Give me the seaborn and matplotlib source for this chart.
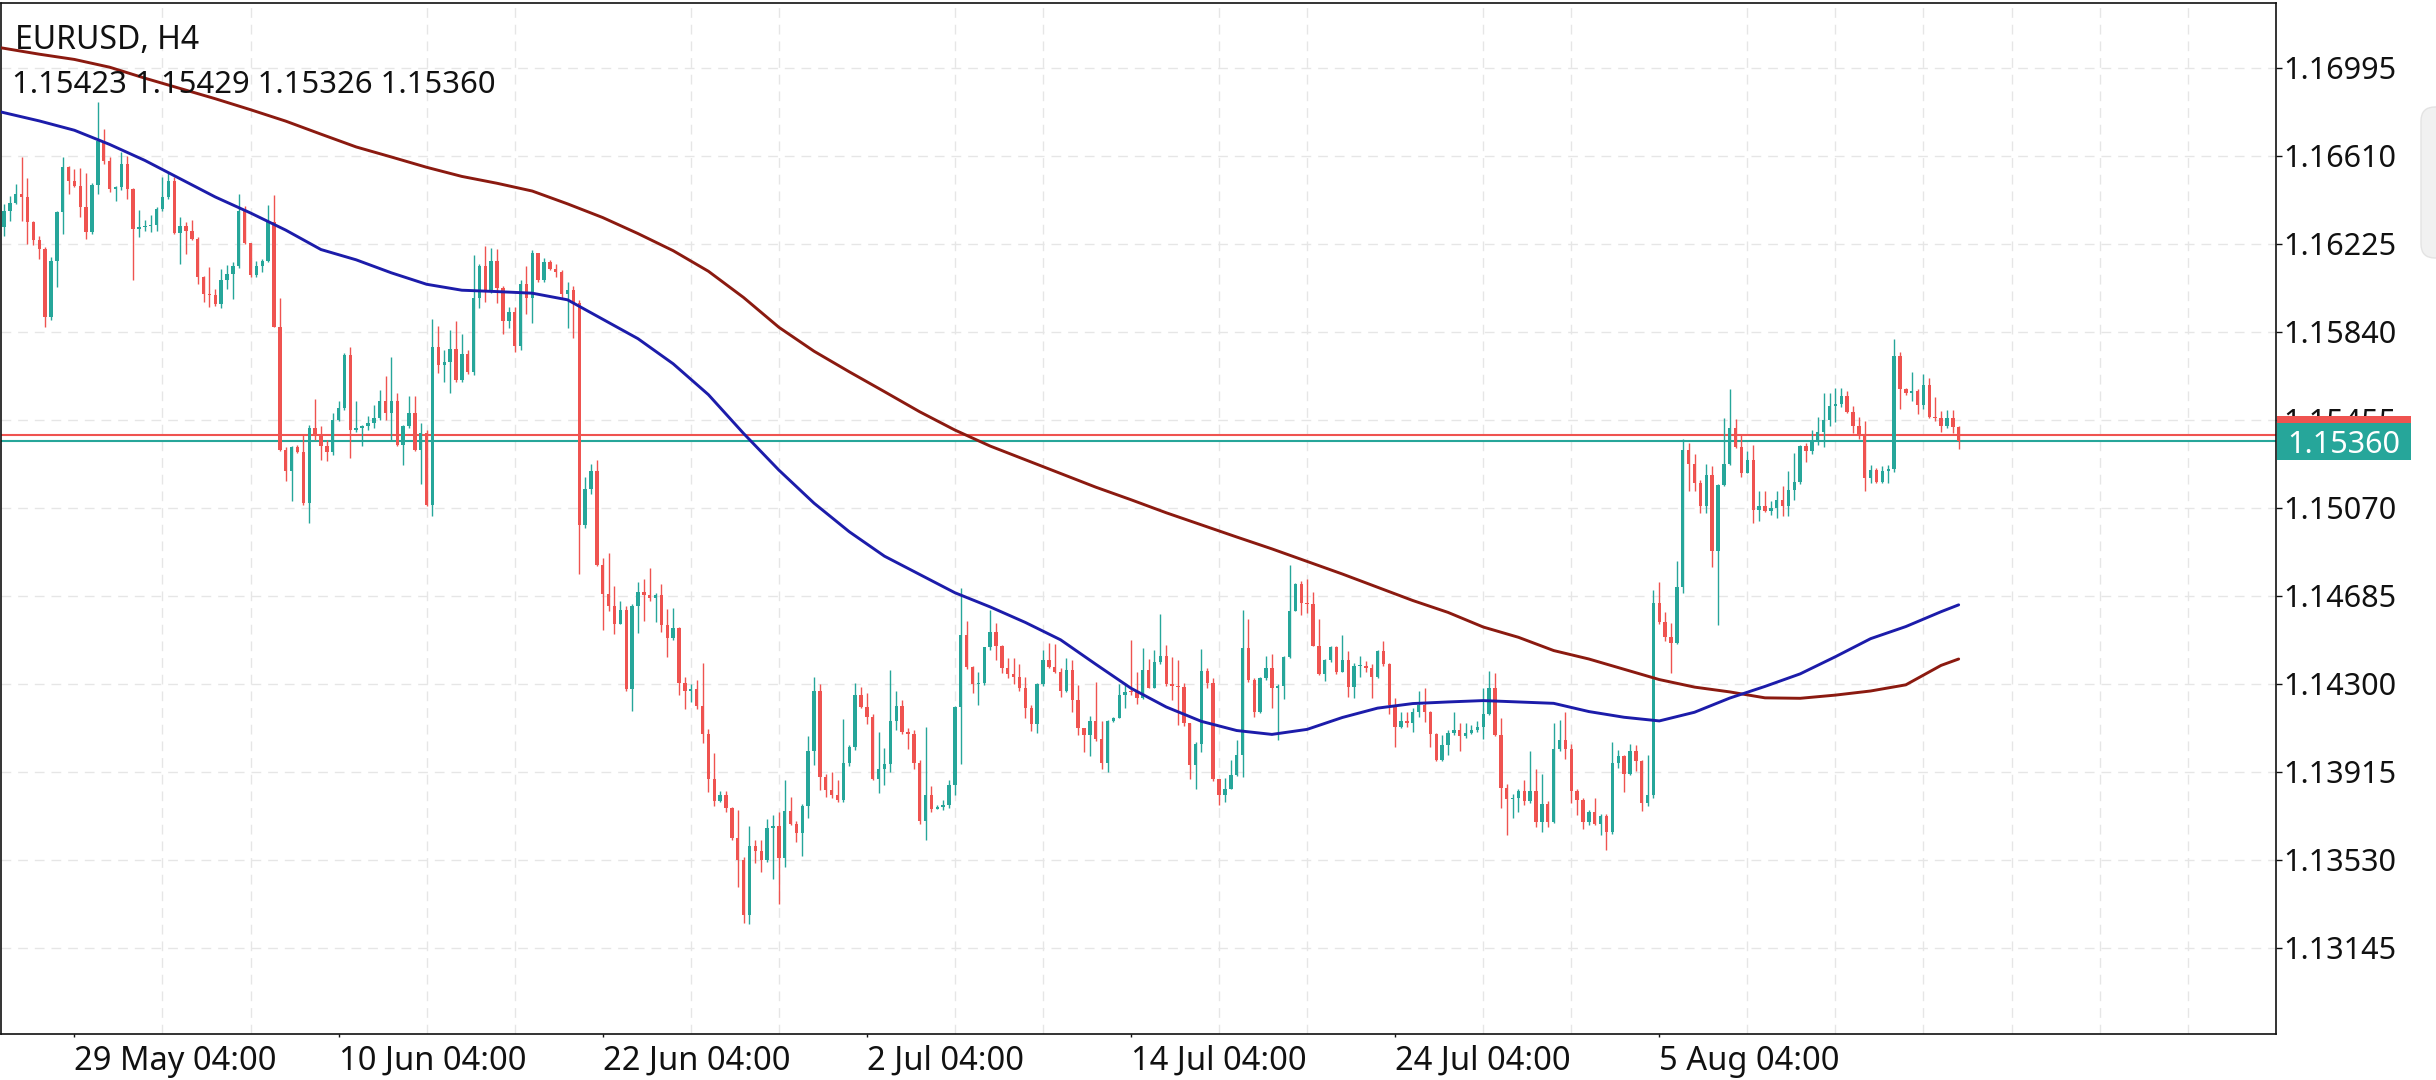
import numpy as np
import pandas as pd
import seaborn as sns
import matplotlib.pyplot as plt
from matplotlib.patches import Rectangle, FancyBboxPatch
from matplotlib.transforms import blended_transform_factory, IdentityTransform

# chart data
symbol = "EURUSD, H4"
first_open = 1.16298

close = [
    1.16370, 1.16402, 1.16443, 1.16428, 1.16319, 1.16242, 1.16203, 1.15905, 1.16152, 1.16363,
    1.16562, 1.16501, 1.16479, 1.16385, 1.16276, 1.16484, 1.16675, 1.16588, 1.16465, 1.16475,
    1.16574, 1.16465, 1.16290, 1.16298, 1.16305, 1.16309, 1.16378, 1.16431, 1.16501, 1.16272,
    1.16305, 1.16280, 1.16247, 1.16080, 1.16007, 1.16000, 1.15961, 1.16065, 1.16094, 1.16126,
    1.16370, 1.16228, 1.16087, 1.16126, 1.16152, 1.16319, 1.15859, 1.15324, 1.15230, 1.15336,
    1.15313, 1.15089, 1.15419, 1.15390, 1.15339, 1.15313, 1.15455, 1.15506, 1.15738, 1.15411,
    1.15419, 1.15426, 1.15440, 1.15462, 1.15535, 1.15484, 1.15535, 1.15346, 1.15426, 1.15484,
    1.15324, 1.15397, 1.15084, 1.15775, 1.15695,
    1.15709, 1.15765, 1.15630, 1.15745, 1.15666, 1.15987, 1.16126, 1.16017, 1.16150, 1.16031,
    1.15888, 1.15928, 1.15779, 1.16051, 1.15987, 1.16186, 1.16067, 1.16146, 1.16116, 1.16100,
    1.16007, 1.16023, 1.15967, 1.14995, 1.15153, 1.15229, 1.14820, 1.14693, 1.14641, 1.14562,
    1.14622, 1.14276, 1.14641, 1.14701, 1.14687, 1.14677, 1.14690, 1.14558, 1.14502, 1.14542,
    1.14304, 1.14270, 1.14276, 1.14201, 1.14078, 1.13883, 1.13788, 1.13814, 1.13754, 1.13625,
    1.13530, 1.13288, 1.13589, 1.13566, 1.13530, 1.13669, 1.13675, 1.13536, 1.13744, 1.13685,
    1.13645, 1.13764, 1.14006, 1.14270, 1.13893, 1.13833, 1.13813, 1.13790, 1.13953, 1.14022,
    1.14250,
    1.14199, 1.14155, 1.13882, 1.13928, 1.13950, 1.14136, 1.14204, 1.14087, 1.14078, 1.13955,
    1.13697, 1.13814, 1.13753, 1.13760, 1.13770, 1.13858, 1.14199, 1.14511, 1.14371, 1.14297,
    1.14302, 1.14459, 1.14526, 1.14463, 1.14368, 1.14341, 1.14330, 1.14280, 1.14192, 1.14122,
    1.14297, 1.14404, 1.14375, 1.14350, 1.14268, 1.14360, 1.14229, 1.14104, 1.14075, 1.14136,
    1.14060, 1.13955, 1.14136, 1.14151, 1.14251, 1.14265, 1.14262, 1.14236, 1.14360, 1.14283,
    1.14397, 1.14419, 1.14297, 1.14292, 1.14287, 1.14126, 1.13946, 1.14038, 1.14356, 1.14302,
    1.13882, 1.13811, 1.13841, 1.13899, 1.13987, 1.14456, 1.14316, 1.14177, 1.14327, 1.14368,
    1.14280, 1.14290, 1.14415, 1.14619, 1.14737, 1.14653, 1.14649, 1.14467, 1.14341, 1.14404,
    1.14459, 1.14353, 1.14404, 1.14287, 1.14379, 1.14379, 1.14370, 1.14331, 1.14441, 1.14385,
    1.14207, 1.14111, 1.14136, 1.14126,
    1.14178, 1.14208, 1.14174, 1.14079, 1.13966, 1.14030, 1.14082, 1.14096, 1.14070, 1.14085,
    1.14099, 1.14110, 1.14168, 1.14282, 1.14074, 1.13844, 1.13797, 1.13800, 1.13832, 1.13785,
    1.13832, 1.13693, 1.13773, 1.13693, 1.14015, 1.14052, 1.14015, 1.13829, 1.13792, 1.13696,
    1.13740, 1.13684, 1.13722, 1.13651, 1.13955, 1.13985, 1.13903, 1.14007, 1.13963, 1.13777,
    1.13814, 1.14653, 1.14571, 1.14504, 1.14479, 1.14723, 1.15321, 1.15261, 1.15180, 1.15079,
    1.15212, 1.14880, 1.15168, 1.15261, 1.15420, 1.15336, 1.15224, 1.15281, 1.15061, 1.15076,
    1.15054, 1.15070, 1.15103, 1.15076, 1.15147, 1.15183, 1.15340, 1.15320, 1.15365, 1.15402,
    1.15454, 1.15514, 1.15524, 1.15558, 1.15491, 1.15429, 1.15390, 1.15202, 1.15236, 1.15183,
    1.15232, 1.15239, 1.15732, 1.15588, 1.15573, 1.15580, 1.15521, 1.15607, 1.15469, 1.15462,
    1.15429, 1.15462, 1.15423, 1.15360,
]

high = [
    1.16399, 1.16436, 1.16487, 1.16606, 1.16513, 1.16327, 1.16261, 1.16210, 1.16167, 1.16370,
    1.16606, 1.16566, 1.16552, 1.16556, 1.16537, 1.16490, 1.16847, 1.16726, 1.16603, 1.16479,
    1.16625, 1.16610, 1.16470, 1.16373, 1.16330, 1.16349, 1.16385, 1.16516, 1.16537, 1.16516,
    1.16341, 1.16319, 1.16330, 1.16255, 1.16085, 1.16123, 1.16029, 1.16116, 1.16131, 1.16145,
    1.16443, 1.16392, 1.16230, 1.16152, 1.16160, 1.16396, 1.16439, 1.15990, 1.15336, 1.15340,
    1.15346, 1.15390, 1.15433, 1.15545, 1.15426, 1.15368, 1.15484, 1.15535, 1.15746, 1.15775,
    1.15535, 1.15433, 1.15470, 1.15520, 1.15586, 1.15647, 1.15731, 1.15574, 1.15430, 1.15557,
    1.15557, 1.15440, 1.15411, 1.15894, 1.15865,
    1.15759, 1.15848, 1.15888, 1.15832, 1.15759, 1.16176, 1.16136, 1.16216, 1.16206, 1.16202,
    1.16040, 1.15948, 1.15948, 1.16067, 1.16126, 1.16196, 1.16142, 1.16162, 1.16156, 1.16135,
    1.16110, 1.16057, 1.16040, 1.15980, 1.15203, 1.15263, 1.15277, 1.14852, 1.14872, 1.14727,
    1.14661, 1.14640, 1.14650, 1.14747, 1.14757, 1.14806, 1.14697, 1.14737, 1.14628, 1.14633,
    1.14550, 1.14330, 1.14300, 1.14316, 1.14389, 1.14100, 1.13998, 1.13830, 1.13830, 1.13760,
    1.13748, 1.13540, 1.13675, 1.13615, 1.13615, 1.13708, 1.13724, 1.13740, 1.13879, 1.13804,
    1.13700, 1.13774, 1.14072, 1.14330, 1.14300, 1.13905, 1.13913, 1.13880, 1.14145, 1.14030,
    1.14304,
    1.14287, 1.14258, 1.14166, 1.14087, 1.14019, 1.14360, 1.14268, 1.14229, 1.14104, 1.14097,
    1.13965, 1.14111, 1.13852, 1.13768, 1.13790, 1.13877, 1.14204, 1.14719, 1.14576, 1.14379,
    1.14353, 1.14462, 1.14624, 1.14565, 1.14470, 1.14412, 1.14412, 1.14385, 1.14331, 1.14207,
    1.14302, 1.14448, 1.14478, 1.14473, 1.14368, 1.14412, 1.14404, 1.14294, 1.14107, 1.14160,
    1.14309, 1.14137, 1.14140, 1.14155, 1.14297, 1.14302, 1.14492, 1.14353, 1.14456, 1.14409,
    1.14448, 1.14605, 1.14470, 1.14415, 1.14404, 1.14302, 1.14060, 1.14045, 1.14453, 1.14368,
    1.14327, 1.13885, 1.13888, 1.13965, 1.14053, 1.14624, 1.14584, 1.14327, 1.14331, 1.14419,
    1.14429, 1.14297, 1.14419, 1.14819, 1.14741, 1.14748, 1.14756, 1.14701, 1.14584, 1.14409,
    1.14463, 1.14463, 1.14514, 1.14441, 1.14390, 1.14419, 1.14400, 1.14385, 1.14448, 1.14488,
    1.14390, 1.14239, 1.14177, 1.14177,
    1.14193, 1.14267, 1.14282, 1.14180, 1.14085, 1.14074, 1.14096, 1.14178, 1.14129, 1.14129,
    1.14119, 1.14135, 1.14282, 1.14356, 1.14346, 1.14148, 1.13859, 1.13817, 1.13837, 1.13877,
    1.14007, 1.13926, 1.13904, 1.13785, 1.14129, 1.14141, 1.14178, 1.14037, 1.13840, 1.13800,
    1.13748, 1.13800, 1.13728, 1.13728, 1.14044, 1.14010, 1.13990, 1.14034, 1.14030, 1.13966,
    1.13990, 1.14708, 1.14746, 1.14613, 1.14564, 1.14838, 1.15370, 1.15355, 1.15306, 1.15190,
    1.15261, 1.15251, 1.15175, 1.15462, 1.15588, 1.15459, 1.15387, 1.15320, 1.15346, 1.15143,
    1.15143, 1.15100, 1.15143, 1.15165, 1.15232, 1.15310, 1.15345, 1.15355, 1.15410, 1.15465,
    1.15573, 1.15573, 1.15595, 1.15595, 1.15580, 1.15514, 1.15469, 1.15450, 1.15257, 1.15242,
    1.15251, 1.15257, 1.15810, 1.15751, 1.15592, 1.15662, 1.15588, 1.15655, 1.15637, 1.15554,
    1.15494, 1.15499, 1.15499, 1.15429,
]

low = [
    1.16261, 1.16327, 1.16399, 1.16327, 1.16225, 1.16218, 1.16160, 1.15862, 1.15891, 1.16036,
    1.16269, 1.16443, 1.16472, 1.16341, 1.16247, 1.16266, 1.16443, 1.16574, 1.16450, 1.16414,
    1.16460, 1.16421, 1.16068, 1.16254, 1.16280, 1.16276, 1.16283, 1.16370, 1.16420, 1.16266,
    1.16138, 1.16181, 1.16240, 1.16051, 1.15971, 1.15949, 1.15952, 1.15946, 1.16029, 1.15985,
    1.16120, 1.16225, 1.16080, 1.16080, 1.16102, 1.16145, 1.15859, 1.15317, 1.15186, 1.15099,
    1.15308, 1.15084, 1.15005, 1.15368, 1.15281, 1.15273, 1.15300, 1.15448, 1.15498, 1.15288,
    1.15400, 1.15339, 1.15410, 1.15420, 1.15455, 1.15455, 1.15360, 1.15340, 1.15259, 1.15420,
    1.15317, 1.15172, 1.15077, 1.15034, 1.15658,
    1.15620, 1.15574, 1.15620, 1.15620, 1.15654, 1.15650, 1.15944, 1.15971, 1.16010, 1.15967,
    1.15832, 1.15858, 1.15753, 1.15760, 1.15918, 1.15878, 1.16060, 1.16060, 1.16110, 1.16080,
    1.15990, 1.15858, 1.15813, 1.14780, 1.14980, 1.15130, 1.14815, 1.14534, 1.14618, 1.14518,
    1.14560, 1.14270, 1.14181, 1.14522, 1.14574, 1.14660, 1.14568, 1.14528, 1.14415, 1.14490,
    1.14250, 1.14191, 1.14221, 1.14190, 1.14042, 1.13828, 1.13764, 1.13780, 1.13740, 1.13615,
    1.13411, 1.13252, 1.13248, 1.13516, 1.13476, 1.13520, 1.13446, 1.13337, 1.13496, 1.13680,
    1.13605, 1.13546, 1.13714, 1.13943, 1.13833, 1.13804, 1.13800, 1.13780, 1.13780, 1.13940,
    1.14010,
    1.14192, 1.14122, 1.13877, 1.13823, 1.13858, 1.13914, 1.14097, 1.14078, 1.14013, 1.13928,
    1.13687, 1.13614, 1.13738, 1.13750, 1.13745, 1.13756, 1.13811, 1.13950, 1.14365, 1.14258,
    1.14207, 1.14295, 1.14448, 1.14404, 1.14346, 1.14327, 1.14300, 1.14268, 1.14148, 1.14092,
    1.14082, 1.14290, 1.14370, 1.14346, 1.14243, 1.14265, 1.14177, 1.14075, 1.13999, 1.13984,
    1.14048, 1.13928, 1.13914, 1.14133, 1.14150, 1.14192, 1.14250, 1.14210, 1.14233, 1.14280,
    1.14280, 1.14385, 1.14292, 1.14229, 1.14119, 1.14116, 1.13882, 1.13841, 1.14000, 1.14280,
    1.13873, 1.13767, 1.13782, 1.13838, 1.13896, 1.13892, 1.14309, 1.14155, 1.14170, 1.14316,
    1.14195, 1.14053, 1.14233, 1.14412, 1.14617, 1.14602, 1.14609, 1.14463, 1.14338, 1.14312,
    1.14397, 1.14341, 1.14353, 1.14243, 1.14239, 1.14331, 1.14350, 1.14236, 1.14324, 1.14379,
    1.14166, 1.14024, 1.14104, 1.14111,
    1.14089, 1.14153, 1.14132, 1.14022, 1.13963, 1.13960, 1.13990, 1.14074, 1.14007, 1.14064,
    1.14079, 1.14090, 1.14059, 1.14163, 1.14069, 1.13755, 1.13636, 1.13710, 1.13740, 1.13767,
    1.13777, 1.13674, 1.13651, 1.13674, 1.13690, 1.14005, 1.13970, 1.13777, 1.13725, 1.13666,
    1.13681, 1.13680, 1.13636, 1.13570, 1.13640, 1.13930, 1.13826, 1.13900, 1.13918, 1.13743,
    1.13766, 1.13800, 1.14559, 1.14485, 1.14346, 1.14473, 1.14697, 1.15143, 1.15143, 1.15049,
    1.15049, 1.14812, 1.14556, 1.15165, 1.15255, 1.15331, 1.15206, 1.15220, 1.15002, 1.15013,
    1.15050, 1.15040, 1.15024, 1.15035, 1.15035, 1.15102, 1.15175, 1.15272, 1.15306, 1.15346,
    1.15335, 1.15429, 1.15447, 1.15509, 1.15484, 1.15395, 1.15370, 1.15143, 1.15177, 1.15180,
    1.15180, 1.15177, 1.15227, 1.15503, 1.15563, 1.15539, 1.15479, 1.15503, 1.15462, 1.15450,
    1.15402, 1.15420, 1.15395, 1.15326,
]

# moving averages, sampled at these bar numbers
ma_bars = [-1] + list(range(6, 331, 6)) + [333]
ma_fast = [
    1.16805, 1.16763, 1.16722, 1.16660, 1.16590, 1.16510, 1.16430, 1.16360, 1.16285, 1.16200,
    1.16155, 1.16098, 1.16048, 1.16022, 1.16016, 1.16009, 1.15980, 1.15895, 1.15810, 1.15700,
    1.15565, 1.15395, 1.15235, 1.15090, 1.14965, 1.14858, 1.14778, 1.14698, 1.14636, 1.14568,
    1.14492, 1.14385, 1.14280, 1.14198, 1.14135, 1.14095, 1.14078, 1.14100, 1.14152, 1.14193,
    1.14213, 1.14220, 1.14226, 1.14220, 1.14214, 1.14178, 1.14153, 1.14137, 1.14175, 1.14237,
    1.14288, 1.14343, 1.14418, 1.14497, 1.14550, 1.14615, 1.14645,
]
ma_slow = [
    1.17085, 1.17055, 1.17032, 1.16998, 1.16950, 1.16905, 1.16860, 1.16812, 1.16762, 1.16705,
    1.16649, 1.16605, 1.16560, 1.16520, 1.16490, 1.16456, 1.16400, 1.16340, 1.16270, 1.16195,
    1.16105, 1.15990, 1.15860, 1.15755, 1.15665, 1.15578, 1.15490, 1.15410, 1.15340, 1.15280,
    1.15220, 1.15160, 1.15105, 1.15048, 1.14995, 1.14942, 1.14890, 1.14835, 1.14780, 1.14722,
    1.14664, 1.14612, 1.14548, 1.14503, 1.14445, 1.14408, 1.14363, 1.14318, 1.14285, 1.14264,
    1.14238, 1.14236, 1.14250, 1.14268, 1.14295, 1.14380, 1.14408,
]

bid = 1.15360
ask = 1.15388
price_ticks = [1.13145, 1.13530, 1.13915, 1.14300, 1.14685, 1.15070,
               1.15455, 1.15840, 1.16225, 1.16610, 1.16995]
date_bars = [12, 57, 102, 147, 192, 237, 282]
date_labels = ["29 May 04:00", "10 Jun 04:00", "22 Jun 04:00", "2 Jul 04:00",
               "14 Jul 04:00", "24 Jul 04:00", "5 Aug 04:00"]

UP = "#26a69a"
DOWN = "#ef5350"

# build candle frame
df = pd.DataFrame({"close": close, "high": high, "low": low})
df["open"] = [first_open] + close[:-1]
df["bar"] = np.arange(len(df))
df["high"] = np.maximum(df["high"], df[["open", "close"]].max(axis=1))
df["low"] = np.minimum(df["low"], df[["open", "close"]].min(axis=1))
df["color"] = np.where(df["close"] >= df["open"], UP, DOWN)

sns.set_theme(style="white")
plt.rcParams["font.family"] = ["Noto Sans", "DejaVu Sans"]

W, H, DPI = 2436, 1080, 100
fig = plt.figure(figsize=(W / DPI, H / DPI), dpi=DPI, facecolor="white")
ax = fig.add_axes([1 / W, 46.5 / H, 2275 / W, 1030.5 / H])
ax.set_facecolor("white")

ax.set_xlim(-0.51, 387.06)
ax.set_ylim(1.12769, 1.17279)

# grid
grid_style = dict(color="#e6e6e6", linestyle=(0, (7, 5)), linewidth=1.0)
ax.set_xticks(np.arange(date_bars[0], 388, 15), minor=True)
ax.grid(True, which="minor", axis="x", **grid_style)
ax.grid(True, which="major", axis="y", **grid_style)
ax.set_axisbelow(True)

# current price lines
ax.axhline(ask, color=DOWN, linewidth=1.5, zorder=1.5)
ax.axhline(bid, color=UP, linewidth=1.5, zorder=1.6)

# candles
ax.vlines(df["bar"], df["low"], df["high"], colors=df["color"], linewidth=1.0, zorder=2)
body = (df["close"] - df["open"]).abs().clip(lower=0.00004)
ax.bar(df["bar"], body, bottom=df[["open", "close"]].min(axis=1), width=0.58,
       color=df["color"], linewidth=0, zorder=2.1)

# moving averages
sns.lineplot(x=ma_bars, y=ma_slow, ax=ax, color="#8b1a10", linewidth=2.1, zorder=3)
sns.lineplot(x=ma_bars, y=ma_fast, ax=ax, color="#1c1caa", linewidth=2.1, zorder=3.1)

# axes
ax.yaxis.tick_right()
ax.set_yticks(price_ticks)
ax.set_yticklabels([f"{t:.5f}" for t in price_ticks])
ax.set_xticks(date_bars)
ax.set_xticklabels(date_labels, ha="left")
ax.tick_params(axis="y", which="major", right=True, left=False, length=4, width=1,
               pad=1.5, labelsize=22, colors="#111111")
ax.tick_params(axis="x", which="major", bottom=True, length=2.5, width=1,
               pad=5.5, labelsize=23.5, colors="#111111")
ax.tick_params(axis="x", which="minor", length=0)
ax.set_xlabel("")
ax.set_ylabel("")
for s in ax.spines.values():
    s.set_visible(True)
    s.set_color("#111111")
    s.set_linewidth(1.2)

# price labels on the right scale
trans = blended_transform_factory(fig.transFigure, ax.transData)
half = 0.00083
fig.add_artist(Rectangle((2277 / W, ask - half), 134 / W, 2 * half, transform=trans,
                         facecolor=DOWN, edgecolor="none", zorder=5))
fig.add_artist(Rectangle((2277 / W, bid - half), 134 / W, 2 * half, transform=trans,
                         facecolor=UP, edgecolor="none", zorder=6))
fig.text(2287 / W, bid, f"{bid:.5f}", transform=trans, color="white", fontsize=22,
         ha="left", va="center_baseline", zorder=7)

# scroll handle at the right edge
fig.add_artist(FancyBboxPatch((2421, H - 258), 40, 151, boxstyle="round,pad=0,rounding_size=14",
                              transform=IdentityTransform(), facecolor="#f1f1f1",
                              edgecolor="#e3e3e3", linewidth=1, zorder=4))

# header
last = df.iloc[-1]
fig.text(15 / W, 1 - 49 / H, symbol, fontsize=23, color="#111111", va="baseline", zorder=8)
fig.text(12 / W, 1 - 93 / H,
         f"{last['open']:.5f} {last['high']:.5f} {last['low']:.5f} {last['close']:.5f}",
         fontsize=22.3, color="#111111", va="baseline", zorder=8)

fig.savefig("out.png", dpi=DPI, facecolor="white")
